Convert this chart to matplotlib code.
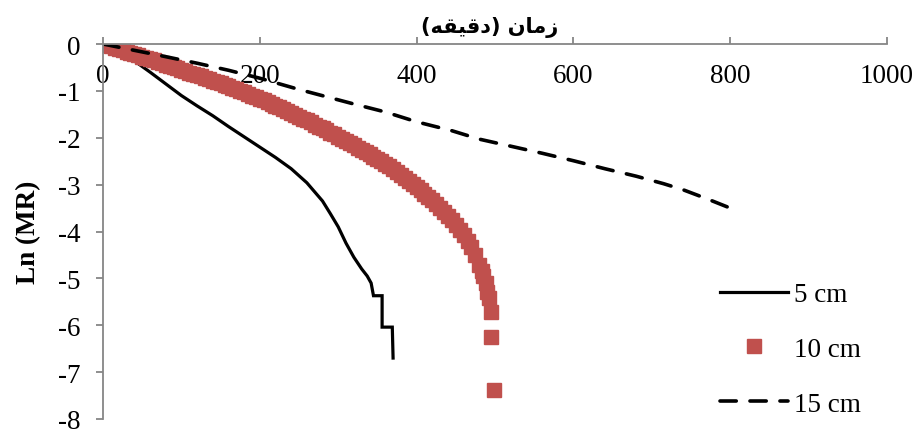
import numpy as np
import matplotlib
matplotlib.use("Agg")
import matplotlib.pyplot as plt

# ── data ────────────────────────────────────────────────────────────────────
t_5cm = [0, 20, 40, 60, 80, 100, 120, 140, 160, 180, 200, 220, 240, 260,
         280, 290, 300, 310, 320, 330, 337, 342, 345, 356, 356, 369, 370]
ln_5cm = [0, -0.17, -0.36, -0.60, -0.85, -1.10, -1.32, -1.53, -1.76, -1.98,
          -2.20, -2.42, -2.66, -2.96, -3.35, -3.62, -3.90, -4.25, -4.55,
          -4.80, -4.95, -5.10, -5.37, -5.37, -6.04, -6.04, -6.70]

t_10cm = [0, 5, 10, 15, 20, 25, 30, 35, 40, 45, 50, 55, 60, 65, 70, 75,
          80, 85, 90, 95, 100, 105, 110, 115, 120, 125, 130, 135, 140, 145,
          150, 155, 160, 165, 170, 175, 180, 185, 190, 195, 200, 205, 210,
          215, 220, 225, 230, 235, 240, 245, 250, 255, 260, 265, 270, 275,
          280, 285, 290, 295, 300, 305, 310, 315, 320, 325, 330, 335, 340,
          345, 350, 355, 360, 365, 370, 375, 380, 385, 390, 395, 400, 405,
          410, 415, 420, 425, 430, 435, 440, 445, 450, 455, 460, 465, 470,
          475, 480, 483, 485, 488, 490, 492, 495, 495, 499]
ln_10cm = [0.00, -0.02, -0.05, -0.08, -0.11, -0.13, -0.16, -0.19, -0.22,
           -0.24, -0.27, -0.30, -0.33, -0.35, -0.38, -0.41, -0.44, -0.46,
           -0.49, -0.52, -0.55, -0.58, -0.61, -0.64, -0.67, -0.69, -0.72,
           -0.75, -0.78, -0.81, -0.84, -0.87, -0.90, -0.93, -0.97, -1.00,
           -1.03, -1.06, -1.10, -1.13, -1.17, -1.20, -1.24, -1.28, -1.32,
           -1.35, -1.39, -1.43, -1.47, -1.51, -1.55, -1.59, -1.63, -1.67,
           -1.72, -1.76, -1.80, -1.84, -1.89, -1.93, -1.98, -2.02, -2.07,
           -2.11, -2.16, -2.21, -2.26, -2.30, -2.35, -2.40, -2.45, -2.50,
           -2.56, -2.61, -2.67, -2.73, -2.79, -2.85, -2.92, -2.98, -3.05,
           -3.12, -3.19, -3.26, -3.33, -3.41, -3.50, -3.58, -3.67, -3.76,
           -3.86, -3.97, -4.08, -4.20, -4.33, -4.50, -4.72, -4.85, -4.95,
           -5.10, -5.28, -5.42, -5.72, -6.25, -7.38]

t_15cm = [0, 80, 120, 160, 200, 250, 320, 360, 400, 445, 480, 520, 560,
          600, 640, 680, 715, 740, 770, 803]
ln_15cm = [0, -0.27, -0.41, -0.56, -0.73, -0.97, -1.28, -1.45, -1.66, -1.85,
           -2.03, -2.18, -2.33, -2.49, -2.66, -2.82, -2.98, -3.11, -3.30,
           -3.52]

labels = ['5 cm', '10 cm', '15 cm']
x_ticks = [0, 200, 400, 600, 800, 1000]
y_ticks = [0, -1, -2, -3, -4, -5, -6, -7, -8]

# "زمان (دقیقه)" in Arabic presentation forms, visual order (no shaping in mpl)
x_title = '(\uFEEA\uFED8\uFEF4\uFED7\uFEA9) \uFEE5\uFE8E\uFEE3\uFEAF'

AX_GREY = '#868686'
RED = '#C0504D'
SERIF = 'Liberation Serif'

plt.rcParams['font.family'] = SERIF
plt.rcParams['axes.unicode_minus'] = False

fig = plt.figure(figsize=(9.18, 4.35), dpi=100)
ax = fig.add_axes([103 / 918, 1 - 420 / 435, (887 - 103) / 918, (420 - 45) / 435])

ax.plot(t_5cm, ln_5cm, color='black', lw=2.3, label=labels[0],
        solid_joinstyle='miter')
ax.plot(t_10cm, ln_10cm, ls='none', marker='s', ms=9.6, color=RED,
        mec=RED, label=labels[1])
ax.plot(t_15cm, ln_15cm, color='black', lw=2.6, ls=(0, (4.5, 3.8)),
        dash_capstyle='round', label=labels[2])

ax.set_xlim(0, 1000)
ax.set_ylim(-8, 0)
ax.set_xticks(x_ticks)
ax.set_yticks(y_ticks)

for s in ['right', 'bottom']:
    ax.spines[s].set_visible(False)
for s in ['top', 'left']:
    ax.spines[s].set_color(AX_GREY)
    ax.spines[s].set_linewidth(1.3)

# x axis sits at the top, labels drop below the line into the plot
ax.tick_params(axis='x', top=True, bottom=False, labeltop=True,
               labelbottom=False, direction='out', length=5, width=1.3,
               color=AX_GREY, pad=-37, labelsize=19.5)
ax.tick_params(axis='y', direction='out', length=5, width=1.3,
               color=AX_GREY, pad=11, labelsize=19.5)

ax.set_ylabel('Ln (MR)', fontsize=19.5, fontweight='bold', labelpad=12)
fig.text(490 / 918, 1 - 27 / 435, x_title, ha='center', va='center',
         fontsize=15, fontweight='bold', family='DejaVu Sans')

ax.legend(loc='upper left', bbox_to_anchor=(720 / 918, 1 - 283 / 435),
          bbox_transform=fig.transFigure, frameon=False, fontsize=19.5,
          handlelength=2.5, handletextpad=0.25, labelspacing=1.1,
          borderpad=0, borderaxespad=0, numpoints=1)

fig.savefig('out.png', dpi=100)
